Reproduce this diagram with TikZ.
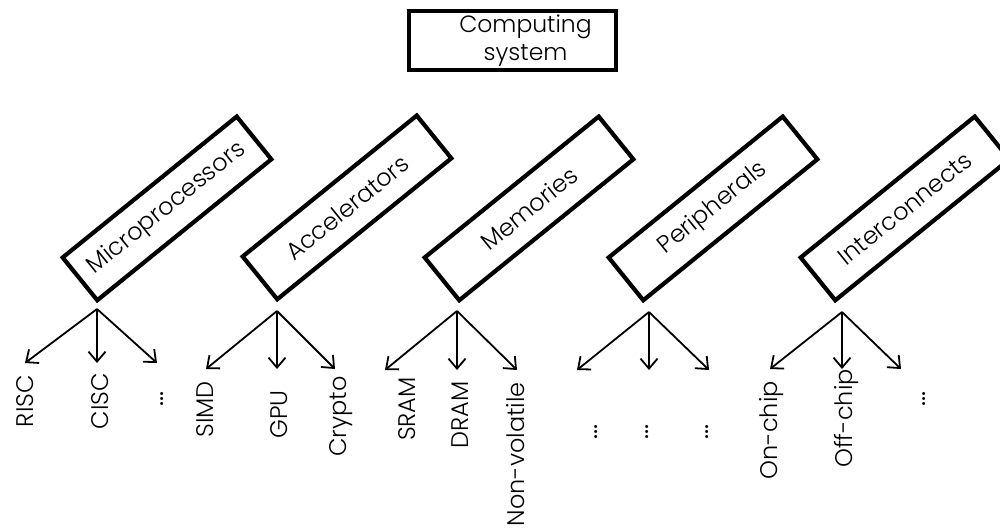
\documentclass[tikz,border=0pt]{standalone}
\usepackage{fontspec}
\setmainfont{Poppins}[UprightFont={* Light}]
\newfontfamily\dotsfont{Poppins}
\usetikzlibrary{arrows.meta}
\begin{document}
\begin{tikzpicture}[x=1pt,y=-1pt,
  catbox/.style={draw, line width=4.2pt, rotate=39, minimum width=224pt, minimum height=55pt, inner sep=0pt, font=\fontsize{24}{28}\selectfont},
  topbox/.style={draw, line width=4.2pt, minimum width=207pt, minimum height=59pt, inner sep=0pt, align=center, font=\fontsize{23.5}{28}\selectfont},
  lab/.style={rotate=90, anchor=base east, inner sep=0pt, font=\fontsize{24}{30}\selectfont},
  dotlab/.style={lab, font=\fontsize{24}{30}\dotsfont},
  arr/.style={-{Straight Barb[length=10pt,width=17pt]}, line width=1.8pt}]
\useasboundingbox (0,0) rectangle (1000,528);
\clip (0,0) rectangle (1000,528);

\node[topbox] (cs) at (512.5,40.5) {\hspace*{26pt}Computing\\\hspace*{26pt}system};

\node[catbox] (mic) at (167,208.4) {Microprocessors};
\node[catbox] (acc) at (347,207.4) {Accelerators};
\node[catbox] (mem) at (529,208.4) {Memories};
\node[catbox] (per) at (713,208.4) {Peripherals};
\node[catbox] (int) at (905,208.4) {Interconnects};

\node[lab] (risc) at (33,375) {RISC};
\node[lab] (cisc) at (108,373) {CISC};
\node[dotlab] (mdots) at (163,391) {...};
\node[lab] (simd) at (213,381) {SIMD};
\node[lab] (gpu) at (287,390) {GPU};
\node[lab] (crypto) at (346,376) {Crypto};
\node[lab] (sram) at (415,377) {SRAM};
\node[lab] (dram) at (468,381) {DRAM};
\node[lab] (nv) at (524,382) {Non-volatile};
\node[dotlab] (pd1) at (597,424) {...};
\node[dotlab] (pd2) at (648,424) {...};
\node[dotlab] (pd3) at (708,424) {...};
\node[lab] (onchip) at (777,381) {On-chip};
\node[lab] (offchip) at (852,369) {Off-chip};
\node[dotlab] (idots) at (925,391) {...};

\coordinate (mo) at (97,309);
\coordinate (m1) at (25,363);
\coordinate (m2) at (97,363);
\coordinate (m3) at (157,363);
\coordinate (ao) at (277,311);
\coordinate (a1) at (206,369);
\coordinate (a2) at (277,369);
\coordinate (a3) at (335,369);
\coordinate (eo) at (457,311);
\coordinate (e1) at (385,370);
\coordinate (e2) at (457,370);
\coordinate (e3) at (517,370);
\coordinate (po) at (649,312);
\coordinate (p1) at (577,370);
\coordinate (p2) at (649,370);
\coordinate (p3) at (709,370);
\coordinate (io) at (842,312);
\coordinate (i1) at (770,369);
\coordinate (i2) at (842,369);
\coordinate (i3) at (901,369);

\foreach \g in {m,a,e,p,i}{
  \draw[arr] (\g o) -- (\g 1);
  \draw[arr] (\g o) -- (\g 2);
  \draw[arr] (\g o) -- (\g 3);
}
\end{tikzpicture}
\end{document}
